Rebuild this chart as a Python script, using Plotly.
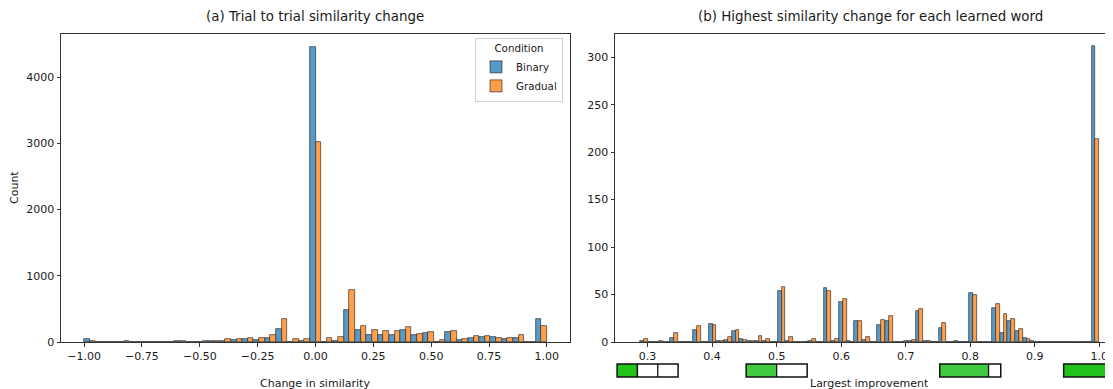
import plotly.graph_objects as go

# ---------------- data ----------------
# Panel (a): histogram of trial-to-trial similarity change, 41 equal bins over [-1, 1]
A_LO, A_HI, A_NBINS = -1.0, 1.0, 41
A_BINARY = [40, 0, 0, 5, 6, 0, 4, 0, 8, 0, 5, 12, 22, 25, 40, 35, 55, 200, 5, 15,
            4450, 5, 20, 480, 180, 110, 110, 110, 187, 110, 130, 5, 147, 30, 60, 80,
            70, 50, 65, 0, 345]
A_GRADUAL = [22, 0, 0, 8, 6, 0, 5, 0, 15, 0, 12, 18, 45, 40, 60, 60, 110, 345, 45, 40,
             3015, 60, 80, 780, 245, 175, 170, 170, 230, 120, 150, 25, 160, 45, 85, 90,
             60, 60, 100, 0, 245]
A_XTICKS = [-1.0, -0.75, -0.5, -0.25, 0.0, 0.25, 0.5, 0.75, 1.0]
A_XTICKTEXT = ["\u22121.00", "\u22120.75", "\u22120.50", "\u22120.25", "0.00", "0.25", "0.50", "0.75", "1.00"]
A_YTICKS = [0, 1000, 2000, 3000, 4000]

# Panel (b): highest similarity change per learned word, 60 equal bins over [0.288, 1.0]
B_LO, B_HI, B_NBINS = 0.288, 1.0, 60
B_BINARY = [1, 0, 0, 0, 4, 0, 0, 13, 0, 19, 1, 2, 12, 3, 1, 1, 1, 0, 54, 1,
            0, 0, 1, 0, 57, 1, 42, 1, 22, 2, 0, 18, 22, 0, 0, 1, 33, 1, 0, 15,
            0, 1, 0, 52, 0, 0, 36, 10, 22, 12, 4, 1, 0, 0, 0, 0, 0, 0, 0, 312]
B_GRADUAL = [3, 0, 1, 0, 9, 0, 0, 17, 0, 18, 1, 5, 13, 2, 1, 6, 3, 0, 58, 5,
             0, 0, 3, 0, 54, 3, 45, 0, 22, 5, 0, 23, 27, 0, 1, 2, 35, 1, 0, 20,
             0, 0, 0, 49, 0, 0, 40, 29, 24, 14, 3, 0, 0, 0, 0, 0, 0, 0, 0, 214]
B_XTICKS = [0.3, 0.4, 0.5, 0.6, 0.7, 0.8, 0.9, 1.0]
B_XTICKTEXT = ["0.3", "0.4", "0.5", "0.6", "0.7", "0.8", "0.9", "1.0"]
B_YTICKS = [0, 50, 100, 150, 200, 250, 300]

# progress-bar glyphs under panel (b)
PROGRESS_AT = [0.3, 0.5, 0.8, 0.992]
PROGRESS_FILL = [0.333, 0.5, 0.8, 1.0]
PROGRESS_SEGMENTS = [3, 2, 1, 1]
PROGRESS_COLOR = ["#22c41c", "#3fca3f", "#3fca3f", "#22c41c"]

CONDITIONS = ["Binary", "Gradual"]
COLORS = ["#5799c7", "#ff9f4a"]

# page has an 8px body margin: lay the figure out in window pixels minus that offset
OFF = 8
WIN_W, WIN_H = 1113, 389
W, H = WIN_W - OFF, WIN_H - OFF
FONT = "DejaVu Sans"
TXT = "#1a1a1a"


def px(p):
    return (p - OFF) / W


def py(p):
    return (WIN_H - p) / H


def centers(lo, hi, n):
    w = (hi - lo) / n
    return [lo + (i + 0.5) * w for i in range(n)], w


fig = go.Figure()

for (lo, hi, n, series, xa, ya, showleg) in [
    (A_LO, A_HI, A_NBINS, [A_BINARY, A_GRADUAL], "x", "y", True),
    (B_LO, B_HI, B_NBINS, [B_BINARY, B_GRADUAL], "x2", "y2", False),
]:
    xc, bw = centers(lo, hi, n)
    for j, (name, col, vals) in enumerate(zip(CONDITIONS, COLORS, series)):
        fig.add_trace(go.Bar(
            x=xc, y=vals, name=name, legendgroup=name, showlegend=showleg,
            width=bw / 2, offset=-bw / 2 + j * bw / 2,
            marker=dict(color=col, line=dict(color="rgba(35,35,35,0.9)", width=0.7)),
            xaxis=xa, yaxis=ya,
        ))

# geometry (window pixels)
y_bot, y_top = 342, 34
A_left, A_right = 61, 570
B_left = 615

axis_common = dict(showgrid=False, zeroline=False, showline=True, linecolor="#333333",
                   linewidth=1, ticks="outside", ticklen=3.5, tickwidth=0.9,
                   automargin=False,
                   tickcolor="#333333", tickfont=dict(family=FONT, size=11, color=TXT))

fig.update_layout(
    template="none",
    width=W, height=H, margin=dict(l=0, r=0, t=0, b=0, pad=0), autosize=False,
    paper_bgcolor="white", plot_bgcolor="white",
    barmode="overlay", bargap=0,
    font=dict(family=FONT, color=TXT),
    xaxis=dict(domain=[px(A_left), px(A_right)], range=[-1.1, 1.1],
               tickvals=A_XTICKS, ticktext=A_XTICKTEXT, mirror=True, anchor="y",
               **axis_common),
    yaxis=dict(domain=[py(y_bot), py(y_top)], range=[0, 4650],
               tickvals=A_YTICKS, mirror=True, anchor="x", **axis_common),
    xaxis2=dict(domain=[px(B_left), 1.0], range=[0.2495, 1.0212],
                tickvals=B_XTICKS, ticktext=B_XTICKTEXT, mirror=True, anchor="y2",
                **axis_common),
    yaxis2=dict(domain=[py(y_bot), py(y_top)], range=[0, 324.5],
                tickvals=B_YTICKS, mirror=False, anchor="x2", **axis_common),
    legend=dict(
        title=dict(text="Condition", side="top center",
                   font=dict(family=FONT, size=10.3, color=TXT)),
        font=dict(family=FONT, size=10.3, color=TXT),
        x=px(563), xanchor="right", y=py(38), yanchor="top",
        bgcolor="rgba(255,255,255,0.85)", bordercolor="#d0d0d0", borderwidth=1,
        itemwidth=30, tracegroupgap=0,
    ),
)

annotations = [
    dict(text="(a) Trial to trial similarity change", x=px(315), y=py(17)),
    dict(text="(b) Highest similarity change for each learned word", x=px(870), y=py(17)),
    dict(text="Change in similarity", x=px(315), y=py(383)),
    dict(text="Largest improvement", x=px(869), y=py(383)),
    dict(text="Count", x=px(14), y=py(188), textangle=-90),
]
for i, a in enumerate(annotations):
    a.update(xref="paper", yref="paper", showarrow=False, xanchor="center", yanchor="middle",
             font=dict(family=FONT, size=13.4 if i < 2 else 11, color=TXT))
fig.update_layout(annotations=annotations)

# progress-bar glyphs
shapes = []
PB_W = 0.0945
pb_y0, pb_y1 = py(377), py(364)
for at, fill, seg, col in zip(PROGRESS_AT, PROGRESS_FILL, PROGRESS_SEGMENTS, PROGRESS_COLOR):
    x0 = at - PB_W / 2
    x1 = at + PB_W / 2
    shapes.append(dict(type="rect", xref="x2", yref="paper", x0=x0, x1=x1, y0=pb_y0, y1=pb_y1,
                       fillcolor="white", line=dict(width=0), layer="above"))
    shapes.append(dict(type="rect", xref="x2", yref="paper", x0=x0, x1=x0 + fill * PB_W,
                       y0=pb_y0, y1=pb_y1, fillcolor=col, line=dict(width=0), layer="above"))
    divs = set(round(k / seg, 4) for k in range(1, seg))
    if 0 < fill < 1:
        divs.add(round(fill, 4))
    for d in sorted(divs):
        xd = x0 + d * PB_W
        shapes.append(dict(type="line", xref="x2", yref="paper", x0=xd, x1=xd,
                           y0=pb_y0, y1=pb_y1, line=dict(color="#111111", width=1.3),
                           layer="above"))
    shapes.append(dict(type="rect", xref="x2", yref="paper", x0=x0, x1=x1, y0=pb_y0, y1=pb_y1,
                       fillcolor="rgba(0,0,0,0)", line=dict(color="#111111", width=1.5),
                       layer="above"))
fig.update_layout(shapes=shapes)

fig.write_html("out.html")
